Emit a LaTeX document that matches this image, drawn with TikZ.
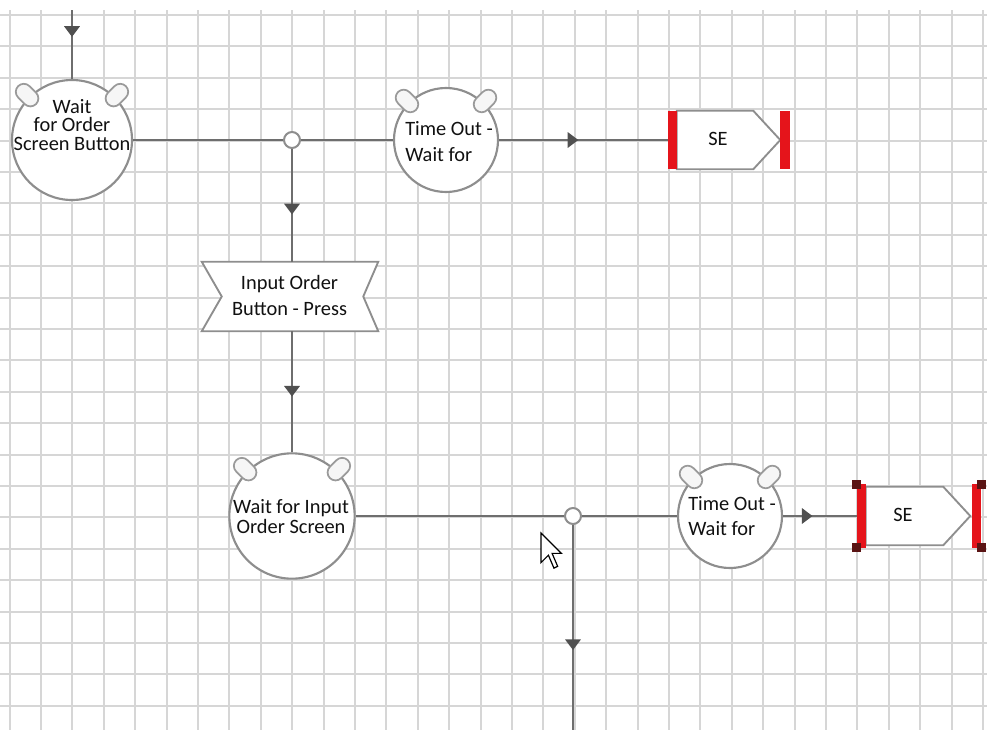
\documentclass[tikz,border=0pt]{standalone}
\usepackage{fontspec}
\setmainfont{Carlito}
\usetikzlibrary{arrows.meta,decorations.markings,shapes.geometric,shapes.misc,calc}
\definecolor{gridc}{HTML}{D6D6D6}
\definecolor{linec}{HTML}{6E6E6E}
\definecolor{shapec}{HTML}{8E8E8E}
\definecolor{earc}{HTML}{9A9A9A}
\definecolor{earfill}{HTML}{F6F6F6}
\definecolor{sered}{HTML}{E5141B}
\definecolor{handlec}{HTML}{5A1414}
\definecolor{arrc}{HTML}{505050}
\definecolor{txtc}{HTML}{111111}
\begin{document}
\begin{tikzpicture}[x=0.75pt,y=-0.75pt,
  gridline/.style={gridc, line width=1.5pt},
  conn/.style={linec, line width=1.8pt},
  clock/.style={circle, draw=shapec, fill=white, line width=1.6pt, inner sep=0pt},
  ear/.style={rounded rectangle, draw=earc, fill=earfill, line width=1.3pt, minimum width=19pt, minimum height=12pt, inner sep=0pt},
  junction/.style={circle, draw=shapec, fill=white, line width=1.5pt, minimum size=12pt, inner sep=0pt},
  shapeline/.style={draw=shapec, fill=white, line width=1.4pt},
  redbar/.style={fill=sered},
  handle/.style={rectangle, fill=handlec, minimum size=6.5pt, inner sep=0pt},
  box/.style={rectangle, inner sep=0pt},
  lbl/.style={font=\fontsize{15.3pt}{18pt}\selectfont, text=txtc, inner sep=0pt},
  midarrow/.style={postaction={decorate}, decoration={markings, mark=at position #1 with {\arrow[color=arrc]{Triangle[width=11.5pt,length=8pt]}}}},
]
\useasboundingbox (0,0) rectangle (996,739);
% grid
\foreach \i in {0,...,31} \draw[gridline] ({9.5+31.4*\i},10) -- ({9.5+31.4*\i},730);
\foreach \j in {0,...,22} \draw[gridline] (0,{15+31.4*\j}) -- (987,{15+31.4*\j});

% clocks
\node[clock, minimum size=90pt] (c1) at (72,140) {};
\node[clock, minimum size=78pt] (c2) at (446,140) {};
\node[clock, minimum size=94pt] (c3) at (292,516) {};
\node[clock, minimum size=78pt] (c4) at (730,516) {};
\foreach \c in {c1,c2,c3,c4} {
  \node[ear, rotate=135] (\c-el) at ($(\c.center)!1.04!(\c.135)$) {};
  \node[ear, rotate=45] (\c-er) at ($(\c.center)!1.04!(\c.45)$) {};
}

% junctions
\node[junction] (j1) at (292,140) {};
\node[junction] (j2) at (573,516) {};

% input shape
\node[box, minimum width=132pt, minimum height=51.75pt] (inp) at (290,296.5) {};
\draw[shapeline] (inp.north west) -- (inp.north east) -- ($(inp.east)+(-15,0)$) -- (inp.south east) -- (inp.south west) -- ($(inp.west)+(20,0)$) -- cycle;

% SE 1
\node[box, minimum width=91.5pt, minimum height=43.5pt] (se1) at (729,140) {};
\draw[shapeline] ($(se1.north west)+(9,0)$) -- ($(se1.north east)+(-37,0)$) -- ($(se1.east)+(-10,0)$) -- ($(se1.south east)+(-37,0)$) -- ($(se1.south west)+(9,0)$) -- cycle;
\fill[redbar] (se1.north west) rectangle ($(se1.south west)+(9,0)$);
\fill[redbar] ($(se1.north east)+(-10,0)$) rectangle (se1.south east);

% SE 2
\node[box, minimum width=93pt, minimum height=47.25pt] (se2) at (919,516) {};
\draw[shapeline] ($(se2.north west)+(9,2.5)$) -- ($(se2.north east)+(-38,2.5)$) -- ($(se2.east)+(-11,0)$) -- ($(se2.south east)+(-38,-2.5)$) -- ($(se2.south west)+(9,-2.5)$) -- cycle;
\fill[redbar] (se2.north west) rectangle ($(se2.south west)+(9,0)$);
\fill[redbar] ($(se2.north east)+(-9,0)$) rectangle (se2.south east);
\node[handle] (h1) at (se2.north west) {};
\node[handle] (h2) at (se2.south west) {};
\node[handle] (h3) at (se2.north east) {};
\node[handle] (h4) at (se2.south east) {};

% connectors
\coordinate (top) at (72,10);
\coordinate (bot) at (573,730);
\draw[conn, midarrow=0.39] (top) -- (c1);
\draw[conn] (c1) -- (j1);
\draw[conn] (j1) -- (c2);
\draw[conn, midarrow=0.47] (c2) -- (se1);
\draw[conn, midarrow=0.58] (j1) -- (j1 |- inp.north);
\draw[conn, midarrow=0.54] (c3 |- inp.south) -- (c3);
\draw[conn] (c3) -- (j2);
\draw[conn] (j2) -- (c4);
\draw[conn, midarrow=0.40] (c4) -- (se2);
\draw[conn, midarrow=0.61] (j2) -- (bot);

% labels
\node[lbl, anchor=base] (t1a) at (72,113) {Wait};
\node[lbl, anchor=base] (t1b) at (72,131.5) {for Order};
\node[lbl, anchor=base] (t1c) at (72,150) {Screen Button};
\node[lbl, anchor=base west] (t2a) at (405,135) {Time Out -};
\node[lbl, anchor=base west] (t2b) at (405,161.7) {Wait for};
\node[lbl, anchor=base] (t3a) at (291,513.3) {Wait for Input};
\node[lbl, anchor=base] (t3b) at (291,533.3) {Order Screen};
\node[lbl, anchor=base west] (t4a) at (688,510) {Time Out -};
\node[lbl, anchor=base west] (t4b) at (688,535) {Wait for};
\node[lbl, anchor=base] (t5a) at (289.5,289.3) {Input Order};
\node[lbl, anchor=base] (t5b) at (289.5,315) {Button - Press};
\node[lbl, anchor=base] (t6) at (718,145.7) {SE};
\node[lbl, anchor=base] (t7) at (903,521.7) {SE};

% mouse cursor
\draw[black, fill=white, line width=0.9pt, line join=miter, shift={(541,533)}, scale=1.85] (0,0) -- (0,16) -- (4,12) -- (7,19) -- (9,18) -- (6,11) -- (11,11) -- cycle;
\end{tikzpicture}
\end{document}
